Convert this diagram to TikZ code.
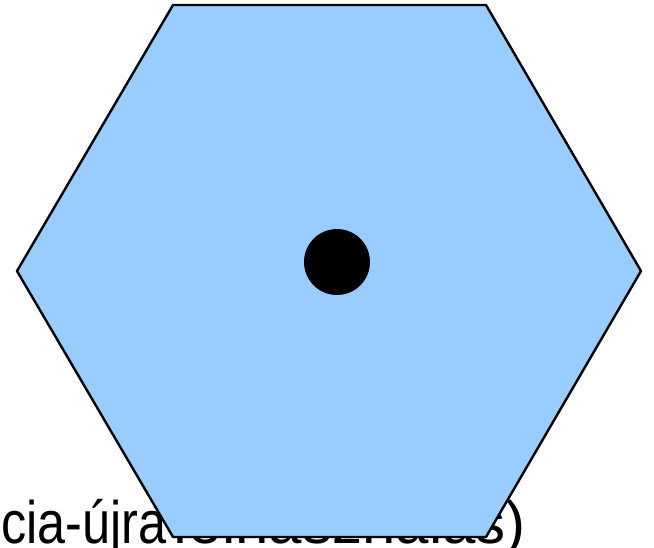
\documentclass[tikz,border=0pt]{standalone}
\usepackage{fontspec}
\setmainfont{Liberation Sans}
\newfontfamily\leftfont[FakeStretch=0.84]{Liberation Sans}
\definecolor{cellblue}{RGB}{153,204,255}
\tikzset{
  cellshape/.style={draw=black, line width=2.4pt, fill=cellblue, line join=miter},
  centerdot/.style={circle, fill=black, inner sep=0pt, minimum size=66pt},
  caption/.style={inner sep=0pt, anchor=base east}
}
\begin{document}
\begin{tikzpicture}[x=1pt,y=-1pt]
\useasboundingbox (0,0) rectangle (654,547);
\clip (0,0) rectangle (654,547);
\node[caption, font=\leftfont\fontsize{60pt}{64pt}\selectfont] (lblA) at (167,543) {(frekvencia-újra};
\node[caption, font=\fontsize{60pt}{64pt}\selectfont] (lblB) at (526,543) {felhasználás)};
\coordinate (v1) at (173,5);
\coordinate (v2) at (486,5);
\coordinate (v3) at (641,271);
\coordinate (v4) at (486,537);
\coordinate (v5) at (173,537);
\coordinate (v6) at (17,271);
\draw[cellshape] (v1) -- (v2) -- (v3) -- (v4) -- (v5) -- (v6) -- cycle;
\node[centerdot] (bs) at (337,262) {};
\end{tikzpicture}
\end{document}
